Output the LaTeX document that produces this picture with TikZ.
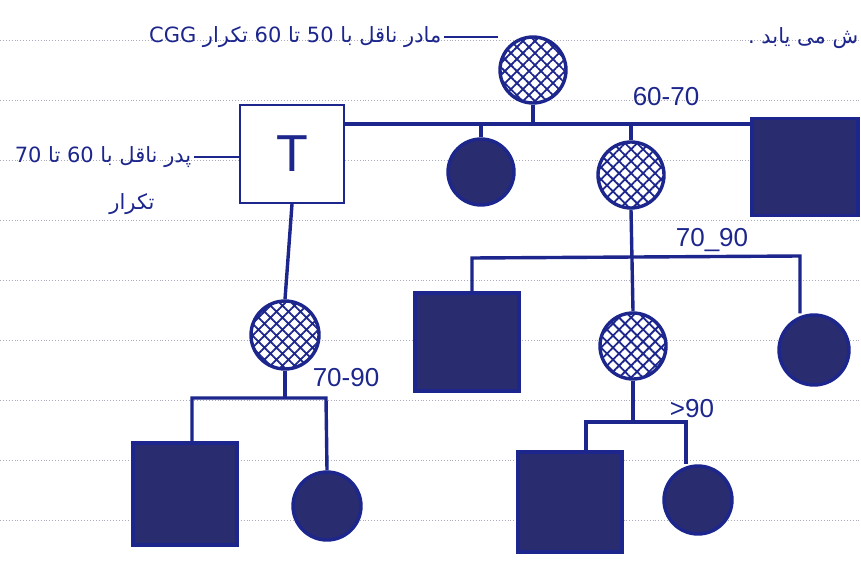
\documentclass[tikz,border=0pt]{standalone}
\usepackage{fontspec}
\setmainfont{Liberation Sans}
\newfontfamily\arabicfont[Script=Arabic]{DejaVu Sans}
\TeXXeTstate=1
\usetikzlibrary{patterns.meta}
\definecolor{ink}{RGB}{28,38,140}
\definecolor{inkfill}{RGB}{42,44,112}
\definecolor{rulec}{RGB}{170,172,190}
\begin{document}
\begin{tikzpicture}[x=1pt,y=-1pt,line width=3.4pt,color=ink,
  filledsq/.style={rectangle,draw=ink,fill=inkfill,minimum width=104pt,minimum height=98pt,inner sep=0pt},
  filledci/.style={circle,draw=ink,fill=inkfill,minimum size=68pt,inner sep=0pt},
  hatchci/.style={circle,draw=ink,fill=white,minimum size=66pt,inner sep=0pt,
    postaction={pattern={Hatch[angle=45,distance=8.5pt,line width=1.8pt]},pattern color=ink}},
  persian/.style={inner sep=1pt,font=\arabicfont\fontsize{21}{24}\selectfont,text=ink},
  lbl/.style={inner sep=1pt,font=\fontsize{26}{28}\selectfont,text=ink},
  rulel/.style={draw=rulec,dotted,line width=0.9pt}]
\useasboundingbox (0,0) rectangle (861,564);
% ruled paper
\foreach \yy in {40,100,160,220,280,340,400,460,520}
  \draw[rulel] (0,\yy) -- (861,\yy);

% generation I
\node[hatchci] (M) at (533,70) {};
\node[rectangle,draw=ink,line width=2pt,fill=white,minimum width=104pt,minimum height=98pt,inner sep=0pt,
      font=\fontsize{52}{56}\selectfont] (F) at (292,154) {T};

% generation II
\node[filledci,minimum size=66pt] (C1) at (481,172) {};
\node[hatchci] (C2) at (631,175) {};
\node[filledsq,minimum width=106pt,minimum height=97pt] (S1) at (805,167) {};
\node[hatchci,minimum size=68pt] (G1) at (285,335) {};

% generation III
\node[filledsq] (G2) at (467,342) {};
\node[hatchci] (G3) at (633,346) {};
\node[filledci,minimum size=70pt] (G4) at (814,350) {};

% generation IV
\node[filledsq,minimum height=102pt] (H1) at (185,494) {};
\node[filledci] (H2) at (327,506) {};
\node[filledsq,minimum height=100pt] (H3) at (570,502) {};
\node[filledci] (H4) at (698,500) {};

% texts
\node[persian,anchor=east] (mt) at (444,37)
  {\beginR مادر ناقل با \beginL 50\endL{} تا \beginL 60\endL{} تکرار \beginL CGG\endL\endR};
\node[persian,anchor=east] (ft) at (194,157)
  {\beginR پدر ناقل با \beginL 60\endL{} تا \beginL 70\endL\endR};
\node[persian] (ft2) at (132,204) {\beginR تکرار\endR};
\node[persian,anchor=east] (tr) at (861,38) {\beginR ش می یابد .\endR};

\node[lbl] (l1) at (666,97) {60-70};
\node[lbl] (l2) at (712,240) {70\_90};
\node[lbl] (l3) at (346,378) {70-90};
\node[lbl] (l4) at (692,409) {>90};

% connectors
\draw[line width=2.4pt] (mt.east) -- (mt.east -| M.west);
\draw[line width=2.4pt] (ft.east) -- (ft.east -| F.west);

\coordinate (a1) at (344,124);
\draw (F.east |- a1) -- (S1.west |- a1);
\draw (M.south) -- (M.south |- a1);
\draw (C1.north) -- (C1.north |- a1);
\draw (C2.north) -- (C2.north |- a1);

\draw (F.south) -- (G1.north);

\coordinate (b1) at (472,258);
\coordinate (b2) at (800,256);
\draw (C2.south) -- (G3.north);
\draw (G2.north -| b1) -- (b1) -- (b2) -- (G4.north -| b2);

\coordinate (c1) at (192,398);
\coordinate (c2) at (326,398);
\draw (G1.south) -- (G1.south |- c1);
\draw (H1.north -| c1) -- (c1) -- (c2) -- (H2.north);

\coordinate (d1) at (586,422);
\coordinate (d2) at (686,422);
\draw (G3.south) -- (G3.south |- d1);
\draw (H3.north -| d1) -- (d1) -- (d2) -- (H4.north -| d2);
\end{tikzpicture}
\end{document}
